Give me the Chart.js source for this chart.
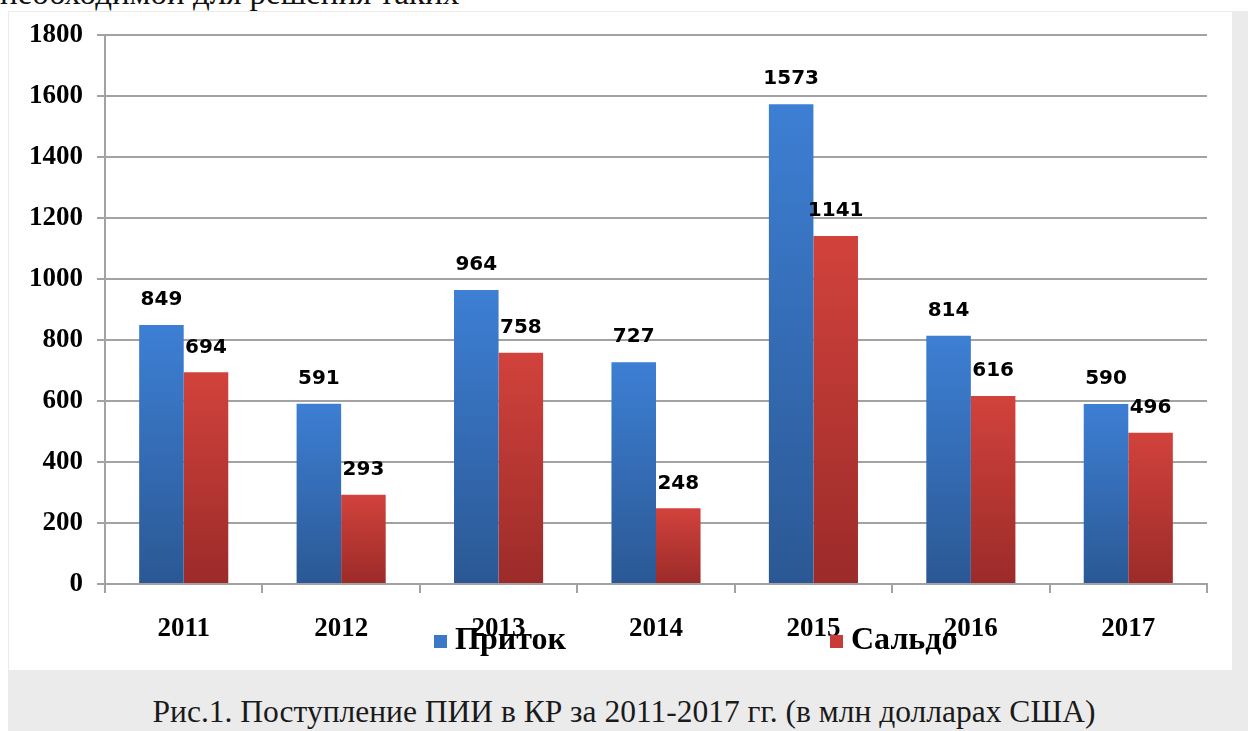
<!DOCTYPE html>
<html lang="ru">
<head>
<meta charset="utf-8">
<title>Поступление ПИИ в КР</title>
<script src="https://cdn.jsdelivr.net/npm/chart.js@4"></script>
<style>
  html, body { margin: 0; padding: 0; background: #fff; width: 1248px; height: 731px; overflow: hidden; }
  .prev-text { position: absolute; left: 0; top: -23px; font: 33px "Liberation Serif", serif; line-height: 33px; color: #111; white-space: nowrap; }
  .frame { position: absolute; left: 8px; top: 11px; width: 1240px; height: 720px; background: #ebebeb; }
  .box { position: absolute; left: 9px; top: 12px; width: 1223px; height: 658px; background: #fff; }
  .caption { position: absolute; left: 0; width: 1248px; top: 694px; text-align: center; font: 31.5px "Liberation Serif", serif; line-height: 36px; color: #1a1a1a; white-space: nowrap; }
  .legend-item { position: absolute; top: 620px; font: bold 32px "Liberation Serif", serif; color: #000; white-space: nowrap; line-height: 36px; }
  .legend-item span.sq { display: inline-block; width: 13px; height: 13px; margin-right: 8px; vertical-align: 1px; }
</style>
</head>
<body>
<div class="prev-text">необходимой для решения таких</div>
<div class="frame"></div>
<div class="box"><canvas id="barChart" width="1223" height="658"></canvas></div>
<div id="legend"></div>
<div class="caption">Рис.1. Поступление ПИИ в КР за 2011-2017 гг. (в млн долларах США)</div>
<script>
document.addEventListener("DOMContentLoaded", function () {
  // Datos
  const years = ["2011", "2012", "2013", "2014", "2015", "2016", "2017"];
  const pritok = [849, 591, 964, 727, 1573, 814, 590];
  const saldo = [694, 293, 758, 248, 1141, 616, 496];
  const seriesNames = ["Приток", "Сальдо"];

  const blueTop = "#3d7fd4", blueBottom = "#2b5894";
  const redTop = "#d2423c", redBottom = "#9b2b29";

  // gradient per bar, from its top down to zero
  function barGradient(top, bottom) {
    return function (context) {
      const chart = context.chart;
      const y = chart.scales.y;
      if (!y || context.raw === undefined) return top;
      const yTop = y.getPixelForValue(context.raw);
      const yBase = y.getPixelForValue(0);
      if (!isFinite(yTop) || !isFinite(yBase) || yTop === yBase) return top;
      const g = chart.ctx.createLinearGradient(0, yTop, 0, yBase);
      g.addColorStop(0, top);
      g.addColorStop(1, bottom);
      return g;
    };
  }

  const valueLabels = {
    id: "valueLabels",
    afterDatasetsDraw(chart) {
      const ctx = chart.ctx;
      ctx.save();
      ctx.font = "bold 20px 'DejaVu Sans', sans-serif";
      ctx.fillStyle = "#000";
      ctx.textAlign = "center";
      ctx.textBaseline = "middle";
      chart.data.datasets.forEach((ds, di) => {
        chart.getDatasetMeta(di).data.forEach((bar, i) => {
          ctx.fillText(String(ds.data[i]), bar.x, bar.y - 25);
        });
      });
      ctx.restore();
    },
  };

  const ctx = document.getElementById("barChart").getContext("2d");
  const chart = new Chart(ctx, {
    type: "bar",
    data: {
      labels: years,
      datasets: [
        { label: seriesNames[0], data: pritok, backgroundColor: barGradient(blueTop, blueBottom), legendColor: "#3b78c8" },
        { label: seriesNames[1], data: saldo, backgroundColor: barGradient(redTop, redBottom), legendColor: "#c83b37" },
      ],
    },
    options: {
      responsive: false,
      animation: false,
      categoryPercentage: 0.566,
      barPercentage: 1.0,
      layout: { padding: { left: 0, right: 25, top: 23, bottom: 0 } },
      scales: {
        y: {
          min: 0,
          max: 1800,
          afterFit: (scale) => { scale.width = 96; },
          ticks: {
            stepSize: 200,
            padding: 14,
            color: "#000",
            callback: (v) => String(v),
            font: { family: "'Liberation Serif', serif", size: 27, weight: "bold", lineHeight: 0.6 },
          },
          grid: { color: "#a2a2a2", lineWidth: 2, tickLength: 8 },
          border: { color: "#a2a2a2", width: 2 },
        },
        x: {
          afterFit: (scale) => { scale.height = 86; },
          ticks: {
            padding: 20,
            color: "#000",
            font: { family: "'Liberation Serif', serif", size: 27, weight: "bold" },
          },
          grid: { drawOnChartArea: false, color: "#a2a2a2", lineWidth: 2, tickLength: 9 },
          border: { color: "#a2a2a2", width: 2 },
        },
      },
      plugins: {
        legend: { display: false },
        tooltip: { enabled: false },
      },
    },
    plugins: [valueLabels],
  });

  // Leyenda superpuesta
  const legendLeft = [434, 830];
  const legend = document.getElementById("legend");
  chart.data.datasets.forEach((ds, i) => {
    const item = document.createElement("div");
    item.className = "legend-item";
    item.style.left = legendLeft[i] + "px";
    const sq = document.createElement("span");
    sq.className = "sq";
    sq.style.background = ds.legendColor;
    item.appendChild(sq);
    item.appendChild(document.createTextNode(ds.label));
    legend.appendChild(item);
  });
});
</script>
</body>
</html>
